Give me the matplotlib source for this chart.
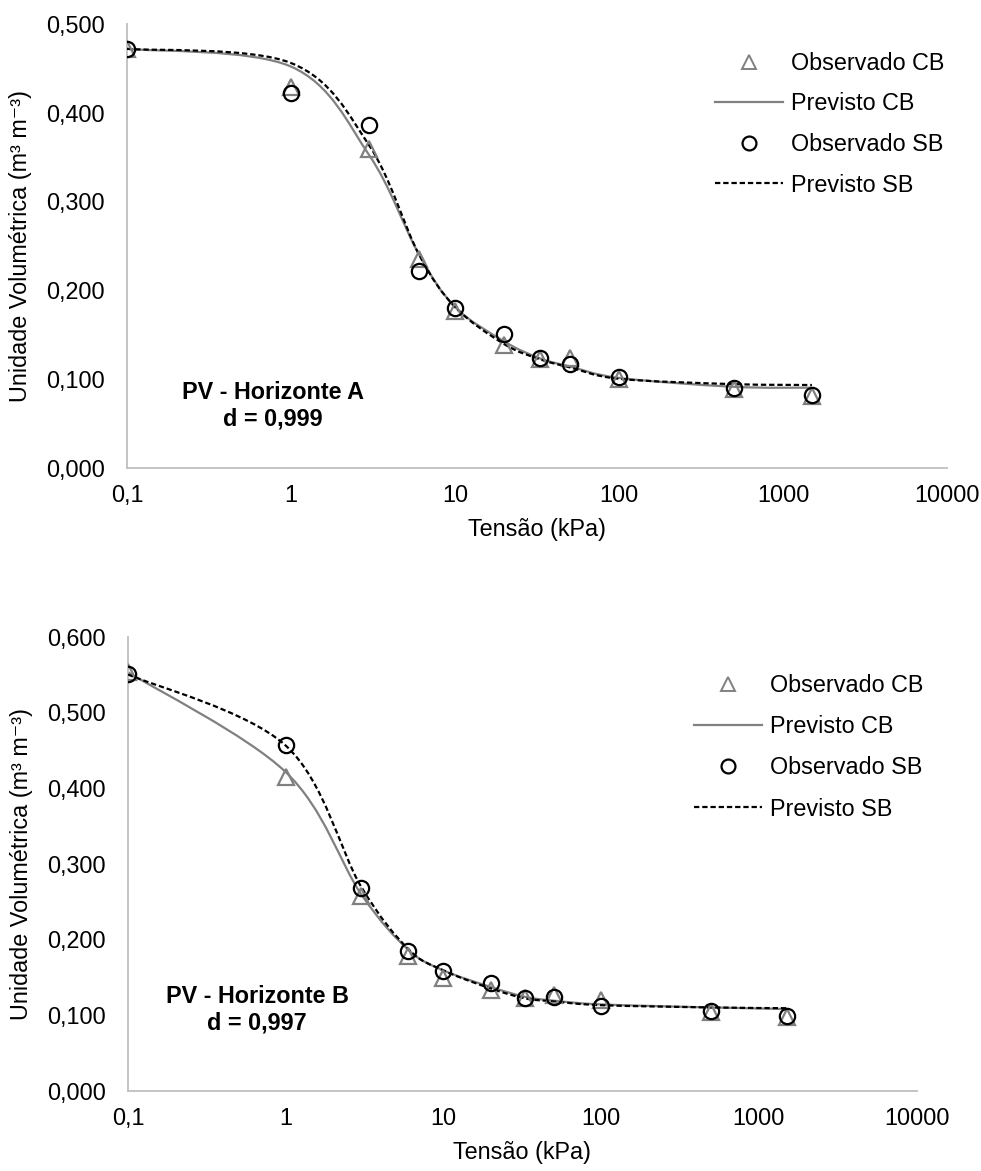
import numpy as np
import matplotlib
matplotlib.use('Agg')
import matplotlib.pyplot as plt
from matplotlib.path import Path
from matplotlib.patches import PathPatch
from matplotlib.lines import Line2D
from matplotlib.ticker import FixedLocator, FuncFormatter, NullLocator

plt.rcParams['font.family'] = ['Liberation Sans', 'DejaVu Sans']

# ---------------- data ----------------
tensao = [0.1, 1, 3, 6, 10, 20, 33, 50, 100, 500, 1500]

obs_cb_A = [0.472, 0.429, 0.359, 0.235, 0.177, 0.138, 0.122, 0.123, 0.100, 0.089, 0.081]
obs_sb_A = [0.472, 0.422, 0.386, 0.222, 0.180, 0.150, 0.123, 0.117, 0.102, 0.090, 0.082]
pred_cb_A = [0.472, 0.452, 0.352, 0.241, 0.181, 0.142, 0.123, 0.114, 0.101, 0.091, 0.090]
pred_sb_A = [0.472, 0.456, 0.363, 0.241, 0.181, 0.139, 0.122, 0.113, 0.100, 0.094, 0.093]

obs_cb_B = [0.553, 0.414, 0.257, 0.178, 0.149, 0.133, 0.122, 0.126, 0.120, 0.104, 0.098]
obs_sb_B = [0.550, 0.457, 0.268, 0.185, 0.158, 0.142, 0.123, 0.124, 0.112, 0.105, 0.099]
pred_cb_B = [0.553, 0.421, 0.260, 0.186, 0.159, 0.137, 0.124, 0.119, 0.114, 0.110, 0.108]
pred_sb_B = [0.550, 0.456, 0.270, 0.187, 0.159, 0.135, 0.122, 0.118, 0.113, 0.110, 0.109]

x_ticks = [0.1, 1, 10, 100, 1000, 10000]
x_ticklabels = ['0,1', '1', '10', '100', '1000', '10000']
y_ticks_A = [0.0, 0.1, 0.2, 0.3, 0.4, 0.5]
y_ticks_B = [0.0, 0.1, 0.2, 0.3, 0.4, 0.5, 0.6]

labels = ['Observado CB', 'Previsto CB', 'Observado SB', 'Previsto SB']
titles = ['PV - Horizonte A\nd = 0,999', 'PV - Horizonte B\nd = 0,997']

GREY = '#808080'
AXC = '#BFBFBF'
FS = 16.8
DASH = (0, (2.4, 1.3))


def smooth_path(xs, ys):
    """Excel-like smoothed line: Catmull-Rom converted to cubic Bezier in log-x space."""
    lx = np.log10(np.asarray(xs, float))
    y = np.asarray(ys, float)
    n = len(lx)
    verts = [(xs[0], y[0])]
    codes = [Path.MOVETO]
    for i in range(n - 1):
        i0 = max(i - 1, 0)
        i3 = min(i + 2, n - 1)
        c1x = lx[i] + (lx[i + 1] - lx[i0]) / 6
        c1y = y[i] + (y[i + 1] - y[i0]) / 6
        c2x = lx[i + 1] - (lx[i3] - lx[i]) / 6
        c2y = y[i + 1] - (y[i3] - y[i]) / 6
        verts += [(10 ** c1x, c1y), (10 ** c2x, c2y), (xs[i + 1], y[i + 1])]
        codes += [Path.CURVE4] * 3
    return Path(verts, codes)


W, H = 981, 1171
fig = plt.figure(figsize=(W / 100, H / 100), dpi=100)


def px_axes(x0, x1, y0, y1):
    return fig.add_axes([x0 / W, 1 - y1 / H, (x1 - x0) / W, (y1 - y0) / H])


def make_panel(ax, obs_cb, obs_sb, pred_cb, pred_sb, yticks, ymax, title,
               leg_xy, leg_spacing, title_xy):
    ax.set_xscale('log')
    ax.set_xlim(0.1, 10000)
    ax.set_ylim(0, ymax)
    ax.add_patch(PathPatch(smooth_path(tensao, pred_cb), fill=False,
                           edgecolor=GREY, lw=1.6, zorder=2))
    ax.add_patch(PathPatch(smooth_path(tensao, pred_sb), fill=False,
                           edgecolor='black', lw=1.6, linestyle=DASH, zorder=3))
    ax.plot(tensao, obs_cb, ls='none', marker='^', ms=11, mfc='none',
            mec=GREY, mew=1.6, zorder=4)
    ax.plot(tensao, obs_sb, ls='none', marker='o', ms=11, mfc='none',
            mec='black', mew=1.6, zorder=5)

    for s in ['top', 'right']:
        ax.spines[s].set_visible(False)
    for s in ['left', 'bottom']:
        ax.spines[s].set_color(AXC)
        ax.spines[s].set_linewidth(1.3)
    ax.xaxis.set_major_locator(FixedLocator(x_ticks))
    ax.xaxis.set_minor_locator(NullLocator())
    ax.set_xticklabels(x_ticklabels)
    ax.yaxis.set_major_locator(FixedLocator(yticks))
    ax.yaxis.set_major_formatter(FuncFormatter(lambda v, p: f'{v:.3f}'.replace('.', ',')))
    ax.tick_params(axis='both', length=0, labelsize=FS, colors='black')
    ax.tick_params(axis='y', pad=16)
    ax.tick_params(axis='x', pad=12)
    ax.set_xlabel('Tensão (kPa)', fontsize=FS, labelpad=8)
    ax.set_ylabel('Unidade Volumétrica (m³ m⁻³)', fontsize=FS, labelpad=10)

    handles = [
        Line2D([], [], ls='none', marker='^', ms=10, mfc='none', mec=GREY, mew=1.4),
        Line2D([], [], color=GREY, lw=1.6),
        Line2D([], [], ls='none', marker='o', ms=10, mfc='none', mec='black', mew=1.6),
        Line2D([], [], color='black', lw=1.6, linestyle=DASH),
    ]
    ax.legend(handles, labels, loc='upper left',
              bbox_to_anchor=(leg_xy[0] / W, 1 - leg_xy[1] / H),
              bbox_transform=fig.transFigure, frameon=False, fontsize=FS,
              handlelength=2.9, handletextpad=0.37, labelspacing=leg_spacing,
              borderpad=0, borderaxespad=0, numpoints=1)

    fig.text(title_xy[0] / W, 1 - title_xy[1] / H, title, ha='center', va='center',
             fontsize=FS, fontweight='bold', linespacing=1.2)


axA = px_axes(127, 947, 24, 467.5)
make_panel(axA, obs_cb_A, obs_sb_A, pred_cb_A, pred_sb_A, y_ticks_A, 0.5,
           titles[0], (715, 52), 0.75, (273, 406))

axB = px_axes(128, 916.5, 636.6, 1090.7)
make_panel(axB, obs_cb_B, obs_sb_B, pred_cb_B, pred_sb_B, y_ticks_B, 0.6,
           titles[1], (694, 674), 0.78, (257, 1010))

fig.savefig('out.png', dpi=100)
